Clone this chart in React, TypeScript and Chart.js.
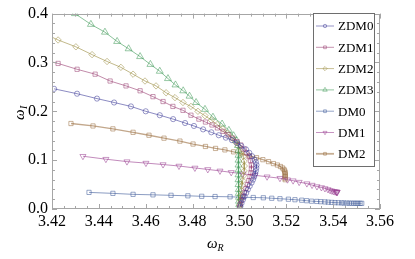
import React, { useEffect, useRef } from 'react';
import { Chart, registerables } from 'chart.js';

Chart.register(...registerables);

const seriesLabels = ['ZDM0', 'ZDM1', 'ZDM2', 'ZDM3', 'DM0', 'DM1', 'DM2'];
const seriesColors = [
  'rgb(63,61,153)',
  'rgb(153,61,113)',
  'rgb(153,139,61)',
  'rgb(61,153,86)',
  'rgb(61,90,153)',
  'rgb(153,61,144)',
  'rgb(153,109,61)',
];
const xTickValues = [3.42, 3.44, 3.46, 3.48, 3.5, 3.52, 3.54, 3.56];
const yTickValues = [0, 0.1, 0.2, 0.3, 0.4];

const zdm0R = [3.4209, 3.4307, 3.4392, 3.4465, 3.4537, 3.46, 3.466, 3.4717, 3.4768, 3.4806, 3.4845, 3.488, 3.4912, 3.4942, 3.4968, 3.499, 3.5008, 3.5028, 3.5042, 3.5054, 3.5064, 3.507, 3.5073, 3.5072, 3.507, 3.5067, 3.5063, 3.5058, 3.5052, 3.5044, 3.5036, 3.5029, 3.5022, 3.5015, 3.5009, 3.5004];
const zdm0I = [0.246, 0.236, 0.226, 0.218, 0.21, 0.2, 0.192, 0.184, 0.176, 0.17, 0.163, 0.157, 0.151, 0.146, 0.141, 0.135, 0.129, 0.122, 0.115, 0.108, 0.101, 0.096, 0.09, 0.084, 0.078, 0.072, 0.066, 0.06, 0.054, 0.047, 0.04, 0.033, 0.026, 0.019, 0.012, 0.005];

const zdm1R = [3.419, 3.4226, 3.4307, 3.4384, 3.4448, 3.4516, 3.4576, 3.4631, 3.4674, 3.4716, 3.4759, 3.4793, 3.4827, 3.4855, 3.4883, 3.4906, 3.493, 3.4952, 3.4972, 3.499, 3.5006, 3.502, 3.5032, 3.5041, 3.5047, 3.5051, 3.5051, 3.5049, 3.5045, 3.504, 3.5034, 3.5028, 3.5021, 3.5015, 3.5009, 3.5004, 3.5001];
const zdm1I = [0.302, 0.298, 0.286, 0.276, 0.262, 0.252, 0.242, 0.23, 0.22, 0.21, 0.202, 0.192, 0.184, 0.178, 0.172, 0.166, 0.159, 0.152, 0.145, 0.138, 0.131, 0.123, 0.115, 0.107, 0.099, 0.09, 0.082, 0.074, 0.066, 0.058, 0.05, 0.042, 0.034, 0.026, 0.018, 0.01, 0.004];

const zdm2R = [3.4185, 3.4226, 3.4302, 3.4371, 3.4435, 3.4494, 3.4546, 3.4597, 3.4644, 3.4687, 3.4725, 3.4759, 3.4793, 3.4823, 3.4853, 3.488, 3.4905, 3.4928, 3.4948, 3.4966, 3.4982, 3.4996, 3.5008, 3.5016, 3.502, 3.5021, 3.502, 3.5017, 3.5014, 3.5011, 3.5008, 3.5005, 3.5003, 3.5001];
const zdm2I = [0.355, 0.346, 0.332, 0.316, 0.302, 0.29, 0.276, 0.262, 0.252, 0.238, 0.228, 0.218, 0.21, 0.2, 0.191, 0.182, 0.173, 0.164, 0.155, 0.146, 0.137, 0.128, 0.118, 0.108, 0.098, 0.088, 0.078, 0.068, 0.058, 0.048, 0.038, 0.028, 0.018, 0.008];

const zdm3R = [3.4298, 3.4366, 3.4426, 3.4478, 3.4527, 3.4576, 3.462, 3.466, 3.4695, 3.4727, 3.476, 3.4787, 3.4815, 3.4853, 3.4887, 3.4926, 3.4955, 3.4975, 3.4988, 3.4994, 3.4996, 3.4996, 3.4996, 3.4996, 3.4996, 3.4996, 3.4996, 3.4996, 3.4997, 3.4997, 3.4998, 3.4998, 3.4999, 3.5];
const zdm3I = [0.4, 0.378, 0.362, 0.343, 0.328, 0.312, 0.296, 0.282, 0.267, 0.254, 0.242, 0.231, 0.218, 0.204, 0.188, 0.174, 0.161, 0.15, 0.14, 0.13, 0.12, 0.11, 0.1, 0.09, 0.08, 0.07, 0.06, 0.05, 0.04, 0.032, 0.024, 0.016, 0.009, 0.003];

const dm0R = [3.4358, 3.446, 3.4546, 3.4631, 3.4708, 3.478, 3.4839, 3.4896, 3.496, 3.5016, 3.5059, 3.5102, 3.5138, 3.5173, 3.5209, 3.5237, 3.5266, 3.5287, 3.5308, 3.533, 3.5347, 3.5365, 3.5379, 3.5394, 3.5408, 3.5422, 3.5436, 3.5446, 3.5458, 3.5469, 3.5479, 3.5489, 3.5498, 3.5506, 3.5515, 3.5522];
const dm0I = [0.034, 0.032, 0.03, 0.029, 0.028, 0.027, 0.026, 0.0255, 0.025, 0.024, 0.0235, 0.023, 0.022, 0.021, 0.02, 0.019, 0.018, 0.017, 0.016, 0.0155, 0.015, 0.0145, 0.014, 0.0135, 0.013, 0.0128, 0.0125, 0.0123, 0.0121, 0.012, 0.0119, 0.0118, 0.0117, 0.0117, 0.0116, 0.0116];

const dm1R = [3.4332, 3.443, 3.452, 3.4601, 3.4674, 3.4742, 3.481, 3.4865, 3.4917, 3.4965, 3.5015, 3.5066, 3.5118, 3.5173, 3.5205, 3.5229, 3.5255, 3.5288, 3.531, 3.5331, 3.535, 3.5365, 3.5378, 3.5387, 3.5395, 3.5402, 3.5408, 3.5413, 3.5416, 3.5417, 3.5416];
const dm1I = [0.108, 0.102, 0.097, 0.094, 0.091, 0.088, 0.084, 0.081, 0.078, 0.075, 0.072, 0.069, 0.066, 0.063, 0.06, 0.058, 0.055, 0.052, 0.049, 0.046, 0.044, 0.042, 0.04, 0.038, 0.037, 0.036, 0.0355, 0.035, 0.035, 0.0345, 0.034];

const dm2R = [3.4281, 3.4375, 3.446, 3.4546, 3.4614, 3.4678, 3.4746, 3.4802, 3.4855, 3.4898, 3.4938, 3.4975, 3.501, 3.5043, 3.5073, 3.51, 3.5124, 3.5145, 3.5162, 3.5175, 3.5184, 3.519, 3.5193, 3.5195, 3.5195, 3.5195, 3.5195, 3.5195, 3.5195];
const dm2I = [0.175, 0.17, 0.164, 0.157, 0.151, 0.145, 0.139, 0.133, 0.128, 0.124, 0.121, 0.117, 0.113, 0.109, 0.105, 0.101, 0.097, 0.093, 0.09, 0.087, 0.084, 0.081, 0.078, 0.075, 0.072, 0.069, 0.066, 0.063, 0.06];

const seriesR = [zdm0R, zdm1R, zdm2R, zdm3R, dm0R, dm1R, dm2R];
const seriesI = [zdm0I, zdm1I, zdm2I, zdm3I, dm0I, dm1I, dm2I];
const markerStyles = ['circle', 'rect', 'rectRot', 'triangle', 'rect', 'triangle', 'rect'];
const markerRotations = [0, 0, 0, 0, 0, 180, 0];
const markerRadii = [2.6, 3, 3.2, 4, 3, 3.5, 3];

const SERIF = '"Liberation Serif", "DejaVu Serif", serif';
const FRAME = '#a6a6a6';

function withAlpha(rgb: string, a: number) {
  return rgb.replace('rgb(', 'rgba(').replace(')', `,${a})`);
}

function drawMarker(ctx: CanvasRenderingContext2D, style: string, x: number, y: number, r: number, rot: number) {
  ctx.save();
  ctx.translate(x, y);
  ctx.rotate((rot * Math.PI) / 180);
  ctx.beginPath();
  if (style === 'circle') {
    ctx.arc(0, 0, r, 0, Math.PI * 2);
  } else if (style === 'rect' || style === 'rectRot') {
    if (style === 'rectRot') ctx.rotate(Math.PI / 4);
    const s = r * Math.SQRT1_2;
    ctx.rect(-s, -s, 2 * s, 2 * s);
  } else if (style === 'triangle') {
    let a = 0;
    ctx.moveTo(Math.sin(a) * r, -Math.cos(a) * r);
    a += (2 * Math.PI) / 3;
    ctx.lineTo(Math.sin(a) * r, -Math.cos(a) * r);
    a += (2 * Math.PI) / 3;
    ctx.lineTo(Math.sin(a) * r, -Math.cos(a) * r);
    ctx.closePath();
  }
  ctx.stroke();
  ctx.restore();
}

const framePlugin = {
  id: 'mmaFrame',
  afterDraw(chart: any) {
    const { ctx, chartArea } = chart;
    const xs = chart.scales.x;
    const ys = chart.scales.y;
    const { left, right, top, bottom } = chartArea;
    ctx.save();
    ctx.strokeStyle = FRAME;
    ctx.lineWidth = 1;
    ctx.strokeRect(Math.round(left) + 0.5, Math.round(top) + 0.5, Math.round(right - left) - 1, Math.round(bottom - top) - 1);
    ctx.beginPath();
    for (let i = 0; i < xTickValues.length; i++) {
      const v = xTickValues[i];
      const px = Math.round(xs.getPixelForValue(v)) + 0.5;
      ctx.moveTo(px, bottom); ctx.lineTo(px, bottom - 5);
      ctx.moveTo(px, top); ctx.lineTo(px, top + 5);
      if (i < xTickValues.length - 1) {
        const step = (xTickValues[i + 1] - v) / 4;
        for (let k = 1; k < 4; k++) {
          const mx = Math.round(xs.getPixelForValue(v + k * step)) + 0.5;
          ctx.moveTo(mx, bottom); ctx.lineTo(mx, bottom - 3);
          ctx.moveTo(mx, top); ctx.lineTo(mx, top + 3);
        }
      }
    }
    for (let i = 0; i < yTickValues.length; i++) {
      const v = yTickValues[i];
      const py = Math.round(ys.getPixelForValue(v)) + 0.5;
      ctx.moveTo(left, py); ctx.lineTo(left + 5, py);
      ctx.moveTo(right, py); ctx.lineTo(right - 5, py);
      if (i < yTickValues.length - 1) {
        const step = (yTickValues[i + 1] - v) / 5;
        for (let k = 1; k < 5; k++) {
          const my = Math.round(ys.getPixelForValue(v + k * step)) + 0.5;
          ctx.moveTo(left, my); ctx.lineTo(left + 3, my);
          ctx.moveTo(right, my); ctx.lineTo(right - 3, my);
        }
      }
    }
    ctx.stroke();

    ctx.fillStyle = '#000';
    ctx.textBaseline = 'alphabetic';
    ctx.textAlign = 'left';
    ctx.font = `italic 15px ${SERIF}`;
    const wOmega = ctx.measureText('ω').width;
    ctx.fillText('ω', 207, 248);
    ctx.font = `italic 10px ${SERIF}`;
    ctx.fillText('R', 207 + wOmega, 251);

    ctx.save();
    ctx.translate(24, 120);
    ctx.rotate(-Math.PI / 2);
    ctx.font = `italic 15px ${SERIF}`;
    ctx.fillText('ω', 0, 0);
    ctx.font = `italic 10px ${SERIF}`;
    ctx.fillText('I', wOmega + 0.5, 3);
    ctx.restore();

    const bx = 313.5, by = 13.5, bw = 61, bh = 153;
    ctx.fillStyle = '#fff';
    ctx.fillRect(bx, by, bw, bh);
    ctx.strokeStyle = '#6e6e6e';
    ctx.strokeRect(bx, by, bw, bh);
    ctx.font = `13px ${SERIF}`;
    ctx.textBaseline = 'middle';
    for (let i = 0; i < seriesLabels.length; i++) {
      const cy = 26 + i * 21.3;
      const col = seriesColors[i];
      ctx.strokeStyle = withAlpha(col, 0.55);
      ctx.lineWidth = i === 6 ? 1.8 : 1;
      ctx.beginPath();
      ctx.moveTo(316, cy); ctx.lineTo(334, cy);
      ctx.stroke();
      ctx.lineWidth = 0.7;
      ctx.strokeStyle = withAlpha(col, 0.7);
      drawMarker(ctx, markerStyles[i], 325, cy, markerRadii[i] * 0.65, markerRotations[i]);
      ctx.fillStyle = '#000';
      ctx.fillText(seriesLabels[i], 338, cy + 1);
    }
    ctx.restore();
  },
};

export default function App() {
  const ref = useRef<HTMLCanvasElement | null>(null);
  useEffect(() => {
    if (!ref.current) return;
    const datasets = seriesLabels.map((label, i) => ({
      label,
      data: seriesR[i].map((r, j) => ({ x: r, y: seriesI[i][j] })),
      showLine: true,
      borderColor: withAlpha(seriesColors[i], 0.6),
      borderWidth: i === 6 ? 1.3 : 1,
      pointStyle: markerStyles[i],
      pointRotation: markerRotations[i],
      pointRadius: markerRadii[i],
      pointBorderWidth: 0.75,
      pointBorderColor: withAlpha(seriesColors[i], 0.7),
      pointBackgroundColor: 'rgba(0,0,0,0)',
      tension: 0,
    }));
    const chart = new Chart(ref.current, {
      type: 'scatter',
      data: { datasets },
      options: {
        animation: false,
        responsive: false,
        devicePixelRatio: 1,
        layout: { padding: { top: 9, right: 35, left: 0, bottom: 0 } },
        plugins: { legend: { display: false }, tooltip: { enabled: false } },
        events: [],
        scales: {
          x: {
            type: 'linear',
            min: 3.42,
            max: 3.56,
            afterBuildTicks: (s: any) => { s.ticks = xTickValues.map((v) => ({ value: v })); },
            afterFit: (s: any) => { s.height = 50; },
            ticks: {
              callback: (v: any) => Number(v).toFixed(2),
              font: { family: SERIF, size: 16 },
              color: '#000',
              padding: 3,
              maxRotation: 0,
              autoSkip: false,
            },
            grid: { display: false, drawTicks: false },
            border: { display: false },
          },
          y: {
            type: 'linear',
            min: 0,
            max: 0.4,
            afterBuildTicks: (s: any) => { s.ticks = yTickValues.map((v) => ({ value: v })); },
            afterFit: (s: any) => { s.width = 52; },
            ticks: {
              callback: (v: any) => Number(v).toFixed(1),
              font: { family: SERIF, size: 16 },
              color: '#000',
              padding: 4,
              autoSkip: false,
            },
            grid: { display: false, drawTicks: false },
            border: { display: false },
          },
        },
      },
      plugins: [framePlugin],
    } as any);
    return () => chart.destroy();
  }, []);
  return (
    <div style={{ position: 'absolute', left: 0, top: 0, width: 415, height: 259, background: '#fff' }}>
      <canvas ref={ref} width={415} height={259} style={{ display: 'block' }} />
    </div>
  );
}
